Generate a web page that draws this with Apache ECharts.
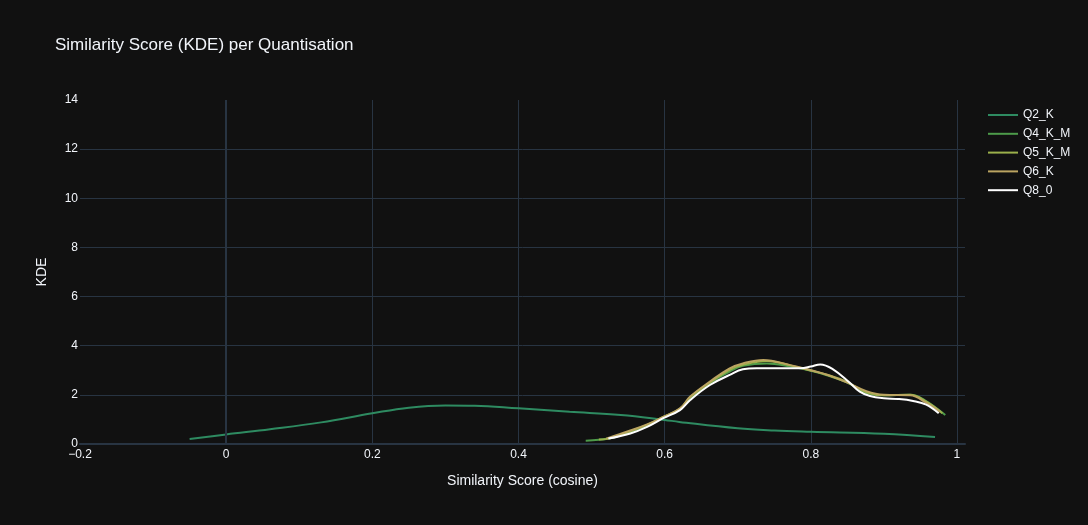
<!DOCTYPE html>
<html>
<head>
<meta charset="utf-8">
<script src="https://cdn.jsdelivr.net/npm/echarts@6/dist/echarts.min.js"></script>
<style>
  html, body { margin: 0; padding: 0; background: #111111; }
  #graph { width: 1088px; height: 525px; }
</style>
</head>
<body>
<div id="graph"></div>
<script>
// 各量化的名称和颜色
var names = ['Q2_K', 'Q4_K_M', 'Q5_K_M', 'Q6_K', 'Q8_0'];
var colors = ['#2e8b61', '#4d9b4a', '#9bb04b', '#bba461', '#ffffff'];

// KDE 曲线 (x = 余弦相似度, y = 密度)
var q2kX = [-0.05, 0, 0.06, 0.13, 0.2, 0.25, 0.3, 0.34, 0.4, 0.47, 0.54, 0.6, 0.62, 0.7, 0.75, 0.8, 0.9, 0.97];
var q2kY = [0.2, 0.39, 0.6, 0.88, 1.25, 1.48, 1.57, 1.56, 1.45, 1.31, 1.18, 0.98, 0.9, 0.64, 0.55, 0.5, 0.42, 0.28];

var q4kmX = [0.492, 0.525, 0.553, 0.576, 0.598, 0.621, 0.635, 0.662, 0.689, 0.707, 0.74, 0.772, 0.8, 0.822, 0.85, 0.876, 0.9, 0.936, 0.955, 0.984];
var q4kmY = [0.13, 0.23, 0.5, 0.75, 1.08, 1.42, 1.85, 2.48, 2.95, 3.18, 3.28, 3.15, 2.98, 2.8, 2.5, 2.08, 1.98, 2.0, 1.8, 1.18];

var q5kmX = [0.51, 0.53, 0.553, 0.576, 0.598, 0.621, 0.635, 0.662, 0.689, 0.707, 0.74, 0.772, 0.8, 0.822, 0.85, 0.876, 0.9, 0.936, 0.958, 0.98];
var q5kmY = [0.18, 0.26, 0.52, 0.78, 1.1, 1.43, 1.9, 2.5, 3.02, 3.22, 3.38, 3.2, 2.99, 2.82, 2.52, 2.1, 1.98, 2.0, 1.72, 1.25];

var q6kX = [0.52, 0.553, 0.576, 0.598, 0.621, 0.635, 0.662, 0.689, 0.707, 0.735, 0.772, 0.8, 0.822, 0.85, 0.876, 0.9, 0.936, 0.958, 0.977];
var q6kY = [0.22, 0.55, 0.8, 1.1, 1.45, 1.93, 2.54, 3.08, 3.28, 3.42, 3.21, 3.0, 2.82, 2.5, 2.15, 2.0, 1.98, 1.68, 1.31];

var q80X = [0.523, 0.553, 0.576, 0.598, 0.621, 0.635, 0.662, 0.689, 0.707, 0.726, 0.76, 0.786, 0.8, 0.813, 0.83, 0.853, 0.867, 0.881, 0.9, 0.92, 0.94, 0.958, 0.975];
var q80Y = [0.22, 0.43, 0.7, 1.05, 1.38, 1.79, 2.4, 2.81, 3.04, 3.08, 3.08, 3.08, 3.15, 3.24, 3.05, 2.5, 2.13, 1.95, 1.86, 1.83, 1.75, 1.6, 1.25];

var xsList = [q2kX, q4kmX, q5kmX, q6kX, q80X];
var ysList = [q2kY, q4kmY, q5kmY, q6kY, q80Y];

var fontFamily = '"Liberation Sans", Arial, sans-serif';
var textColor = '#f2f5fa';
var gridColor = '#283442';

function zip(xs, ys) {
    var out = [];
    for (var i = 0; i < xs.length; i++) out.push([xs[i], ys[i]]);
    return out;
}

var series = [{
    // x=0 的零线
    type: 'line',
    data: [],
    z: 1,
    silent: true,
    markLine: {
        silent: true,
        symbol: 'none',
        label: {show: false},
        lineStyle: {color: gridColor, width: 2, type: 'solid'},
        data: [{xAxis: 0}]
    }
}];

names.forEach(function (name, i) {
    series.push({
        name: name,
        type: 'line',
        z: 2,
        data: zip(xsList[i], ysList[i]),
        smooth: 0.4,
        showSymbol: false,
        symbol: 'none',
        lineStyle: {color: colors[i], width: 2},
        itemStyle: {color: colors[i]}
    });
});

var option = {
    backgroundColor: '#111111',
    animation: false,
    textStyle: {fontFamily: fontFamily, color: textColor},
    title: {
        text: 'Similarity Score (KDE) per Quantisation',
        left: 50,
        top: 32,
        textStyle: {fontFamily: fontFamily, fontSize: 17, fontWeight: 'normal', color: textColor}
    },
    legend: {
        data: names,
        orient: 'vertical',
        left: 983,
        top: 104,
        itemWidth: 30,
        itemHeight: 2,
        itemGap: 6.8,
        itemTextGap: 5,
        icon: 'path://M0,0L30,0L30,2L0,2Z',
        textStyle: {fontFamily: fontFamily, fontSize: 12, color: textColor}
    },
    grid: {left: 80, right: 123, top: 100, bottom: 81, containLabel: false},
    xAxis: {
        type: 'value',
        min: -0.2,
        max: 1.011,
        interval: 0.2,
        name: 'Similarity Score (cosine)',
        nameLocation: 'middle',
        nameGap: 30,
        nameTextStyle: {fontFamily: fontFamily, fontSize: 14, color: textColor},
        axisLine: {show: true, onZero: false, lineStyle: {color: gridColor, width: 2}},
        axisTick: {show: false},
        axisLabel: {
            color: textColor,
            fontSize: 12,
            margin: 5,
            fontFamily: fontFamily,
            formatter: function (v) {
                var k = Math.round(v / 0.2);
                if (Math.abs(v - k * 0.2) > 1e-6) return '';
                var r = Math.round(k * 0.2 * 10) / 10;
                return r < 0 ? '\u2212' + Math.abs(r) : String(r);
            }
        },
        splitLine: {show: true, showMinLine: false, showMaxLine: false, lineStyle: {color: gridColor, width: 1}}
    },
    yAxis: {
        type: 'value',
        min: 0,
        max: 14,
        interval: 2,
        name: 'KDE',
        nameLocation: 'middle',
        nameGap: 31,
        nameTextStyle: {fontFamily: fontFamily, fontSize: 14, color: textColor},
        axisLine: {show: false},
        axisTick: {show: false},
        axisLabel: {color: textColor, fontSize: 12, margin: 2, fontFamily: fontFamily},
        splitLine: {show: true, showMinLine: false, showMaxLine: false, lineStyle: {color: gridColor, width: 1}}
    },
    series: series
};

var chart = echarts.init(document.getElementById('graph'));
chart.setOption(option);
</script>
</body>
</html>
